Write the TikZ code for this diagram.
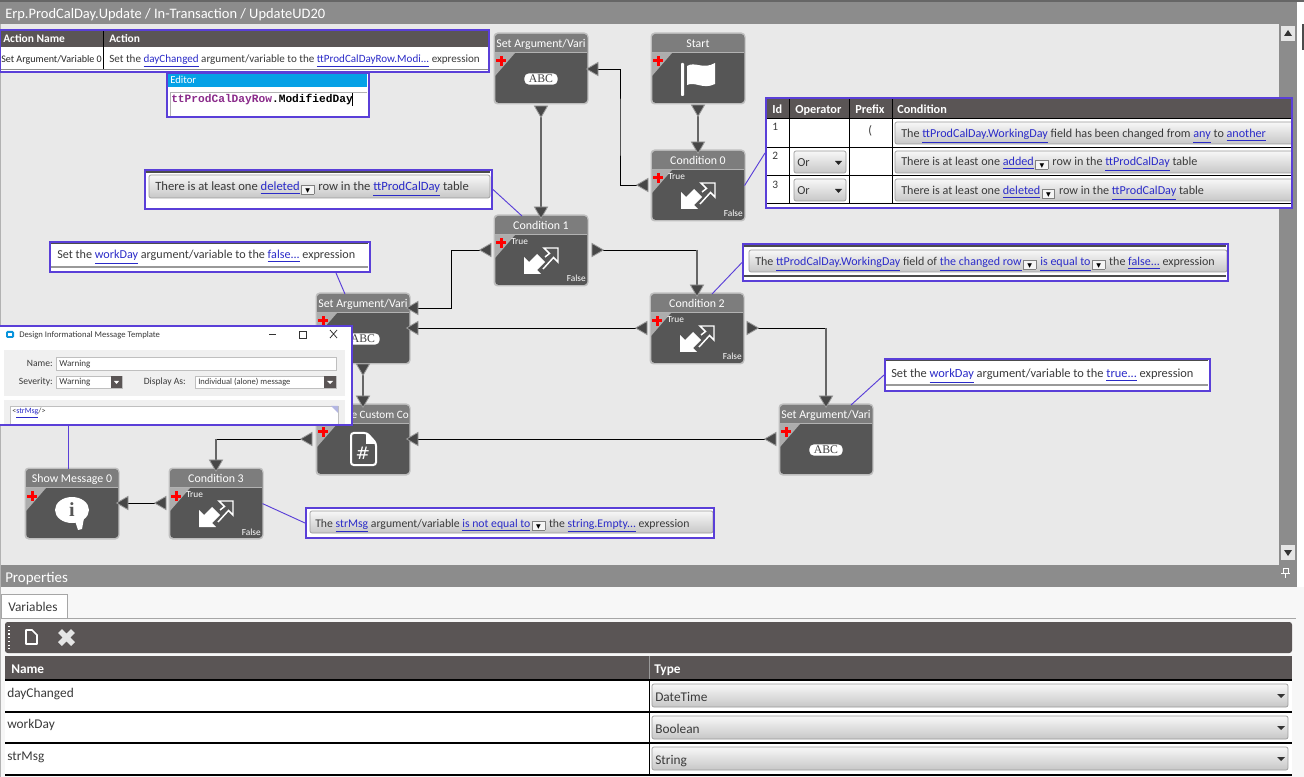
\documentclass[tikz,border=0pt]{standalone}
\usepackage{fontspec}
\setmainfont{Carlito}
\newfontfamily\dejavu{DejaVu Sans}
\newfontfamily\lmono{Liberation Mono}
\newfontfamily\lserif{Liberation Serif}
\usetikzlibrary{calc,shapes.geometric}
\definecolor{pur}{HTML}{5A3FD8}
\definecolor{lnk}{HTML}{2B2BC8}
\definecolor{dark}{HTML}{5A5555}
\definecolor{blockc}{HTML}{565656}
\definecolor{titlec}{HTML}{7D7D7D}
\definecolor{canvas}{HTML}{E9E9E9}
\definecolor{txt}{HTML}{3A3A3A}
\definecolor{edcode}{HTML}{8A2A8A}
\pgfdeclarelayer{bg}\pgfdeclarelayer{lines}
\pgfsetlayers{bg,lines,main}
\newcommand\fs[1]{\fontsize{#1}{#1}\selectfont}
\newcommand\lk[1]{\textcolor{lnk}{\underline{#1}}}
\newcommand\dd{\hspace{1.2pt}\raisebox{-2pt}{\setlength\fboxsep{0pt}\setlength\fboxrule{0.4pt}\fcolorbox{gray}{white!92!gray}{\makebox[9pt]{\rule{0pt}{6pt}\dejavu\fontsize{7}{7}\selectfont\textcolor{black}{▾}}}}\hspace{3pt}}
\tikzset{
  x=0.75pt,y=-0.75pt,
  lab/.style={inner sep=0pt,anchor=base west,text=txt,font=\fs{9.2}},
  hdr/.style={inner sep=0pt,anchor=base west,text=white,font=\fs{9.2}\bfseries},
  blockbody/.style={fill=blockc,rounded corners=2.5pt,minimum width=69pt,minimum height=51.5pt,inner sep=0pt},
  port/.style={isosceles triangle,isosceles triangle apex angle=60,inner sep=2.3pt,fill=black!72,draw=black!40,line width=.6pt},
  pL/.style={port,shape border rotate=180},
  pR/.style={port,shape border rotate=0},
  pD/.style={port,shape border rotate=270},
  wire/.style={black,line width=.65pt},
  wirev/.style={black!60,line width=1.5pt},
  callout/.style={draw=pur,line width=1.5pt},
  tie/.style={pur,line width=.7pt},
  btn/.style={draw=black!40,line width=.5pt,rounded corners=1.5pt,top color=black!3,bottom color=black!22},
}
\newcommand\wfblock[4]{%
  \begin{scope}[shift={(#2,#3)}]
    \fill[black!25,rounded corners=3pt] (-1.5,-1.5) rectangle (93.5,70.5);
    \node[blockbody,anchor=north west] (#1) at (0,0) {};
    \fill[titlec] (0,18) {[rounded corners=2.5pt] -- (0,0) -- (92,0)} -- (92,18) -- cycle;
    \draw[black!30,line width=.6pt] (0,18.5) -- (92,18.5);
    \fill[black!32] (0,19) -- (20,19) -- (0,42) -- cycle;
    \fill[red] (4.5,22) rectangle (7.5,32);
    \fill[red] (1,25.5) rectangle (11,28.5);
    \ifx&#4&\else\node[inner sep=0pt,text=white,font=\fs{8.9},anchor=base] (#1-title) at (46,14) {#4};\fi
  \end{scope}}
\newcommand\abcicon[3]{\begin{scope}[shift={(#2,#3)}]
  \node[fill=white,rounded corners=3.5pt,minimum width=25pt,minimum height=8.5pt,inner sep=0pt,text=black!75,font=\lserif\fs{8.8}] (#1) at (46,45) {ABC};
  \end{scope}}
\newcommand\swapicon[3]{\begin{scope}[shift={(#2,#3)}]
  \fill[white] (29,58) -- (29,41) -- (34,46) -- (42,38) -- (50,46) -- (42,54) -- (46,58) -- cycle;
  \draw[white,line width=1.1pt] (50,41) -- (54.5,37.5) -- (49,32) -- (63,32) -- (63,46) -- (58.5,41.5) -- (48,53);
  \node[inner sep=0pt,text=white,font=\fs{7},anchor=base west] (#1t) at (16,29) {True};
  \node[inner sep=0pt,text=white,font=\fs{7},anchor=base east] (#1f) at (91,66) {False};
  \end{scope}}
\begin{document}
\begin{tikzpicture}
\useasboundingbox (0,0) rectangle (1304,777);
\begin{pgfonlayer}{bg}
  \fill[white] (0,0) rectangle (1304,777);
  \fill[canvas] (0,24) rectangle (1279,565);
  \fill[black!60] (0,0) rectangle (1304,2);
  \fill[black!45] (0,2) rectangle (1297,24);
  \fill[black!30] (0,24) rectangle (1,777);
  \fill[black!45] (1279,24) rectangle (1297,565);
  \fill[black!70] (1302,24) rectangle (1304,50);
  \fill[black!10] (1281,26) rectangle (1295,41);
  \fill[black!10] (1281,545) rectangle (1295,560);
  \fill[black!80] (1284,36) -- (1288,30) -- (1292,36) -- cycle;
  \fill[black!80] (1284,550) -- (1288,556) -- (1292,550) -- cycle;
  \fill[black!45] (1,565) rectangle (1297,587);
  \fill[black!3] (1,587) rectangle (1304,777);
  \draw[black!35] (1,618) -- (1296,618);
  \fill[white,draw=black!35,line width=.5pt] (1,618) -- (1,594) -- (67,594) -- (67,618);
  \fill[dark,rounded corners=2pt] (5,622) rectangle (1292,653);
  \fill[dark] (5,656) rectangle (1292,680);
  \fill[white] (5,680) rectangle (1292,775);
\end{pgfonlayer}
% header texts
\node[lab,text=white,font=\fs{10.85}] (crumb) at (5,19) {Erp.ProdCalDay.Update / In-Transaction / UpdateUD20};
\node[lab,text=white,font=\fs{11.2}] (props) at (5,582) {Properties};
\draw[white,line width=.7pt] (1283,568) rectangle (1288,573);
\draw[white,line width=.7pt] (1281,573) -- (1290,573) (1285.5,573) -- (1285.5,578);
\node[lab,font=\fs{10}] (vartab) at (8,611) {Variables};

% toolbar
\draw[white,line width=.8pt,dotted] (9,626) -- (9,649);
\draw[white,line width=1.3pt,line join=round] (26,630) -- (32,630) -- (37,635) -- (37,644) -- (26,644) -- cycle;
\draw[white!90!black,line width=4pt] (60,631) -- (73,644) (73,631) -- (60,644);

% properties table
\node[hdr,font=\fs{10}\bfseries] (pname) at (11,673) {Name};
\node[hdr,font=\fs{10}\bfseries] (ptype) at (654,673) {Type};
\draw[white!60!black,line width=.6pt] (649,656) -- (649,680);
\draw[black,line width=.7pt] (649,680) -- (649,775);
\foreach \yy in {680,712,743,775} \draw[black,line width=.8pt] (5,\yy) -- (1292,\yy);
\node[lab,font=\fs{10}] (var1) at (7,697) {dayChanged};
\node[lab,font=\fs{10}] (var2) at (7,728) {workDay};
\node[lab,font=\fs{10}] (var3) at (7,760) {strMsg};
\foreach \yt/\tx/\nm in {684/DateTime/t1,716/Boolean/t2,747/String/t3} {
  \draw[btn] (652,\yt) rectangle (1288,\yt+23);
  \node[lab,font=\fs{10}] (\nm) at (655,\yt+17) {\tx};
  \fill[black!80] (1277,\yt+10) -- (1285,\yt+10) -- (1281,\yt+14) -- cycle;
}

% blocks
\wfblock{seta}{495}{34}{Set Argument/Vari}
\abcicon{seta-i}{495}{34}
\wfblock{start}{652}{34}{Start}
\wfblock{cond0}{652}{151}{Condition 0}
\swapicon{cond0-s}{652}{151}
\wfblock{cond1}{495}{216}{Condition 1}
\swapicon{cond1-s}{495}{216}
\wfblock{cond2}{651}{294}{Condition 2}
\swapicon{cond2-s}{651}{294}
\wfblock{setb}{317}{294}{Set Argument/Vari}
\abcicon{setb-i}{317}{294}
\wfblock{setc}{780}{405}{Set Argument/Vari}
\abcicon{setc-i}{780}{405}
\wfblock{custom}{317}{405}{}
\node[inner sep=0pt,text=white,font=\fs{8.4},anchor=base east] (custom-title) at (409,419) {e Custom Co};
\wfblock{cond3}{170}{469}{Condition 3}
\swapicon{cond3-s}{170}{469}
\wfblock{show}{26}{469}{Show Message 0}
% flag
\fill[white,rounded corners=.7pt] (681,63) rectangle (684,96);
\fill[white] (687,66) .. controls (695,61) and (703,70) .. (715,63) -- (715,84) .. controls (703,90) and (695,81) .. (687,85) -- cycle;
% document icon
\draw[white,line width=1.5pt,rounded corners=2pt] (351,433) -- (367,433) -- (376,443) -- (376,465) -- (351,465) -- cycle;
\fill[white] (366,433) -- (366,444) -- (376,444) -- cycle;
\node[inner sep=0pt,text=white,font=\dejavu\fs{13}] (custom-i) at (363,453) {\#};
% info bubble
\fill[white] (72,510) ellipse [x radius=17,y radius=13];
\fill[white] (74,518) -- (78,530) -- (82,529) -- (84,518) -- cycle;
\node[inner sep=0pt,text=blockc,font=\lserif\bfseries\fs{15}] (show-i) at (72,510) {i};

% ports
\node[pD] (startB) at (698,108) {};
\node[pD] (c0T) at (698,145) {};
\node[pL] (c0L) at (645,185) {};
\node[pL] (saR) at (595,69) {};
\node[pD] (saB) at (541,109) {};
\node[pD] (c1T) at (541,210) {};
\node[pL] (c1L) at (488,250) {};
\node[pR] (c1R) at (595,250) {};
\node[pD] (c2T) at (697,288) {};
\node[pL] (c2L) at (644,328) {};
\node[pR] (c2R) at (750,328) {};
\node[pL] (sbR1) at (415,308) {};
\node[pL] (sbR2) at (415,328) {};
\node[pD] (sbB) at (363,367) {};
\node[pD] (cuT) at (363,399) {};
\node[pL] (cuL) at (309,439) {};
\node[pL] (cuR) at (415,439) {};
\node[pD] (scT) at (826,399) {};
\node[pL] (scL) at (773,439) {};
\node[pD] (c3T) at (216,463) {};
\node[pL] (c3L) at (163,503) {};
\node[pL] (shR) at (125,503) {};

% connectors
\begin{pgfonlayer}{lines}
  \draw[wirev] (startB.center) -- (c0T.center);
  \draw[wirev] (saB.center) -- (c1T.center);
  \draw[wirev] (sbB.center) -- (cuT.center);
  \draw[wire] (c0L.center) -| ($(c0L)!.5!(saR)$) |- (saR.center);
  \draw[wire] (c1L.center) -| ($(c1L)!.5!(sbR1)$) |- (sbR1.center);
  \draw[wire] (c2L.center) -- (sbR2.center);
  \draw[wire] (scL.center) -- (cuR.center);
  \draw[wire] (c3L.center) -- (shR.center);
  \draw[wire] (c1R.center) -- (c1R -| c2T);
  \draw[wirev] (c1R -| c2T) -- (c2T.center);
  \draw[wire] (c2R.center) -- (c2R -| scT);
  \draw[wirev] (c2R -| scT) -- (scT.center);
  \draw[wire] (cuL.center) -- (cuL -| c3T);
  \draw[wirev] (cuL -| c3T) -- (c3T.center);
\end{pgfonlayer}

% action table
\fill[white] (0,29) rectangle (489,71);
\fill[dark] (0,30) rectangle (488,47);
\draw[black!45] (0,69) -- (488,69);
\draw[black,line width=.6pt] (103,30) -- (103,69);
\node[hdr,font=\fs{8.6}\bfseries] (an) at (3,43) {Action Name};
\node[hdr,font=\fs{8.6}\bfseries] (ac) at (109,43) {Action};
\node[lab,font=\fs{7.55},text=black!85] (an1) at (1,63) {Set Argument/Variable 0};
\node[lab,font=\fs{8.3}] (ac1) at (109,63) {Set the \lk{dayChanged} argument/variable to the \lk{ttProdCalDayRow.Modi...} expression};
\node[callout,fill=none,minimum width=366.75pt,minimum height=31.5pt,inner sep=0pt,anchor=north west] (actbox) at (-1,29) {};

% editor
\fill[white] (166,72) rectangle (368,116);
\fill[cyan!90!blue] (167,73) rectangle (367,87);
\node[lab,text=white,font=\fs{8}] (edh) at (170,84) {Editor};
\draw[black!30,line width=.5pt] (170,116) -- (170,92) -- (367,92);
\node[lab,font=\lmono\bfseries\fs{8.4}] (edt) at (171,103) {\textcolor{edcode}{ttProdCalDayRow}\textcolor{black}{.ModifiedDay}};
\draw[black,line width=.6pt] (352.5,93) -- (352.5,106);
\node[callout,minimum width=151.5pt,minimum height=33pt,inner sep=0pt,anchor=north west] (edbox) at (166,72) {};

% callout 1
\fill[white] (144,169) rectangle (491,208);
\draw[black!70,line width=.8pt] (146,172) -- (490,172);
\draw[btn] (149,175) rectangle (490,198);
\node[lab,font=\fs{9.45}] (ct1) at (155,191) {There is at least one \lk{deleted}\dd row in the \lk{ttProdCalDay} table};
\node[callout,minimum width=260.25pt,minimum height=29.25pt,inner sep=0pt,anchor=north west] (cb1) at (144,169) {};
\draw[tie] (cb1.east) -- ($(cond1.north west)+(27,0)$);

% callout workDay false
\fill[white] (49,241) rectangle (369,271);
\draw[black!70,line width=.8pt] (51,243) -- (368,243);
\draw[black!40,line width=.8pt] (51,267) -- (368,267);
\node[lab,font=\fs{9.1}] (ct2) at (57,259) {Set the \lk{workDay} argument/variable to the \lk{false...} expression};
\node[callout,minimum width=240pt,minimum height=22.5pt,inner sep=0pt,anchor=north west] (cb2) at (49,241) {};
\draw[tie] ($(cb2.south west)+(287,0)$) -- ($(setb.north west)+(28,0)$);

% condition table
\fill[white] (765,97) rectangle (1291,207);
\fill[dark] (767,99) rectangle (1291,118);
\foreach \xx in {789,849,892} \draw[black,line width=.6pt] (\xx,99) -- (\xx,203);
\foreach \yy in {118,147,175,203} \draw[black,line width=.7pt] (767,\yy) -- (1291,\yy);
\node[hdr] (th1) at (772,114) {Id};
\node[hdr] (th2) at (795,114) {Operator};
\node[hdr] (th3) at (855,114) {Prefix};
\node[hdr] (th4) at (897,114) {Condition};
\node[lab,font=\fs{8.5}] (id1) at (772,131) {1};
\node[lab,font=\fs{8.5}] (id2) at (772,160) {2};
\node[lab,font=\fs{8.5}] (id3) at (772,189) {3};
\node[lab] (pre1) at (868,135) {(};
\foreach \yt/\nm in {151/op2,179/op3} {
  \draw[btn] (794,\yt) rectangle (846,\yt+22);
  \node[lab] (\nm) at (797,\yt+16) {Or};
  \fill[black!85] (835,\yt+10) -- (842,\yt+10) -- (838.5,\yt+14) -- cycle;
}
\foreach \yt in {122,151,179} \draw[btn] (1291,\yt+22) -- (900,\yt+22) -- (895,\yt+22) -- (895,\yt) -- (1291,\yt);
\node[lab,font=\fs{9.1}] (cn1) at (901,138) {The \lk{ttProdCalDay.WorkingDay} field has been changed from \lk{any} to \lk{another}};
\node[lab,font=\fs{9.1}] (cn2) at (901,166) {There is at least one \lk{added}\dd row in the \lk{ttProdCalDay} table};
\node[lab,font=\fs{9.1}] (cn3) at (901,195) {There is at least one \lk{deleted}\dd row in the \lk{ttProdCalDay} table};
\node[callout,minimum width=394.5pt,minimum height=82.5pt,inner sep=0pt,anchor=north west] (cb3) at (765,97) {};
\draw[tie] (cond0.east) -- (cb3.west);

% callout condition 2
\fill[white] (742,243) rectangle (1227,280);
\draw[black!70,line width=.8pt] (744,246) -- (1226,246);
\draw[black!70,line width=.8pt] (744,276) -- (1226,276);
\draw[btn] (749,250) rectangle (1227,272);
\node[lab,font=\fs{9}] (ct4) at (755,266) {The \lk{ttProdCalDay.WorkingDay} field of \lk{the changed row}\dd\lk{is equal to}\dd the \lk{false...} expression};
\node[callout,minimum width=363.75pt,minimum height=27.75pt,inner sep=0pt,anchor=north west] (cb4) at (742,243) {};
\draw[tie] ($(cond2.north west)+(61,0)$) -- (cb4.west);

% callout set true
\fill[white] (884,358) rectangle (1209,390);
\draw[black!70,line width=.8pt] (886,360) -- (1208,360);
\draw[black!40,line width=.8pt] (886,385) -- (1208,385);
\node[lab,font=\fs{9.3}] (ct5) at (891,378) {Set the \lk{workDay} argument/variable to the \lk{true...} expression};
\node[callout,minimum width=243.75pt,minimum height=24pt,inner sep=0pt,anchor=north west] (cb5) at (884,358) {};
\draw[tie] ($(setc.north west)+(71,0)$) -- (cb5.west);

% callout condition 3
\fill[white] (305,507) rectangle (713,537);
\draw[btn] (310,511) rectangle (713,533);
\node[lab,font=\fs{8.8}] (ct6) at (315,527) {The \lk{strMsg} argument/variable \lk{is not equal to}\dd the \lk{string.Empty...} expression};
\node[callout,minimum width=306pt,minimum height=22.5pt,inner sep=0pt,anchor=north west] (cb6) at (305,507) {};
\draw[tie] (cond3.east) -- (cb6.west);

% message dialog
\fill[white] (0,325) rectangle (351,424);
\fill[black!6] (4,350) rectangle (345,396);
\fill[black!6] (4,400) rectangle (345,424);
\fill[cyan!80!blue,rounded corners=1pt] (6,331) rectangle (14,338);
\fill[white] (8,333) rectangle (12,336);
\node[lab,font=\fs{6.5}] (dlgt) at (19,338) {Design Informational Message Template};
\draw[black!80,line width=.6pt] (269,334) -- (276,334);
\draw[black!80,line width=.6pt] (299,331) rectangle (306,338);
\draw[black!80,line width=.6pt] (330,330) -- (337,338) (337,330) -- (330,338);
\node[lab,font=\fs{7.2},anchor=base east] (dlgn) at (53,367) {Name:};
\draw[fill=white,draw=black!25,line width=.6pt] (56,357) rectangle (336,370);
\node[lab,font=\fs{6.8}] (dlgw) at (59,367) {Warning};
\node[lab,font=\fs{7.2},anchor=base east] (dlgs) at (53,385) {Severity:};
\draw[fill=white,draw=black!25,line width=.6pt] (56,376) rectangle (122,388);
\fill[dark] (111,376) rectangle (122,388);
\fill[white] (114,381) -- (119,381) -- (116.5,384) -- cycle;
\node[lab,font=\fs{6.8}] (dlgsv) at (59,385) {Warning};
\node[lab,font=\fs{7.2},anchor=base east] (dlgd) at (186,385) {Display As:};
\draw[fill=white,draw=black!25,line width=.6pt] (195,376) rectangle (336,388);
\fill[dark] (324,376) rectangle (336,388);
\fill[white] (327,381) -- (333,381) -- (330,384) -- cycle;
\node[lab,font=\fs{6.4}] (dlgdv) at (198,385) {Individual (alone) message};
\draw[fill=white,draw=black!25,line width=.6pt] (10,406) rectangle (338,424);
\fill[cyan!25!blue!30] (331,406) -- (338,406) -- (338,413) -- cycle;
\node[lab,font=\fs{6}] (dlgm) at (12,414) {<\lk{strMsg}/>};
\node[callout,minimum width=265.5pt,minimum height=74.25pt,inner sep=0pt,anchor=north west] (dlgbox) at (-3,325) {};
\draw[tie] ($(dlgbox.south west)+(71,0)$) -- ($(show.north west)+(42,0)$);
\end{tikzpicture}
\end{document}
